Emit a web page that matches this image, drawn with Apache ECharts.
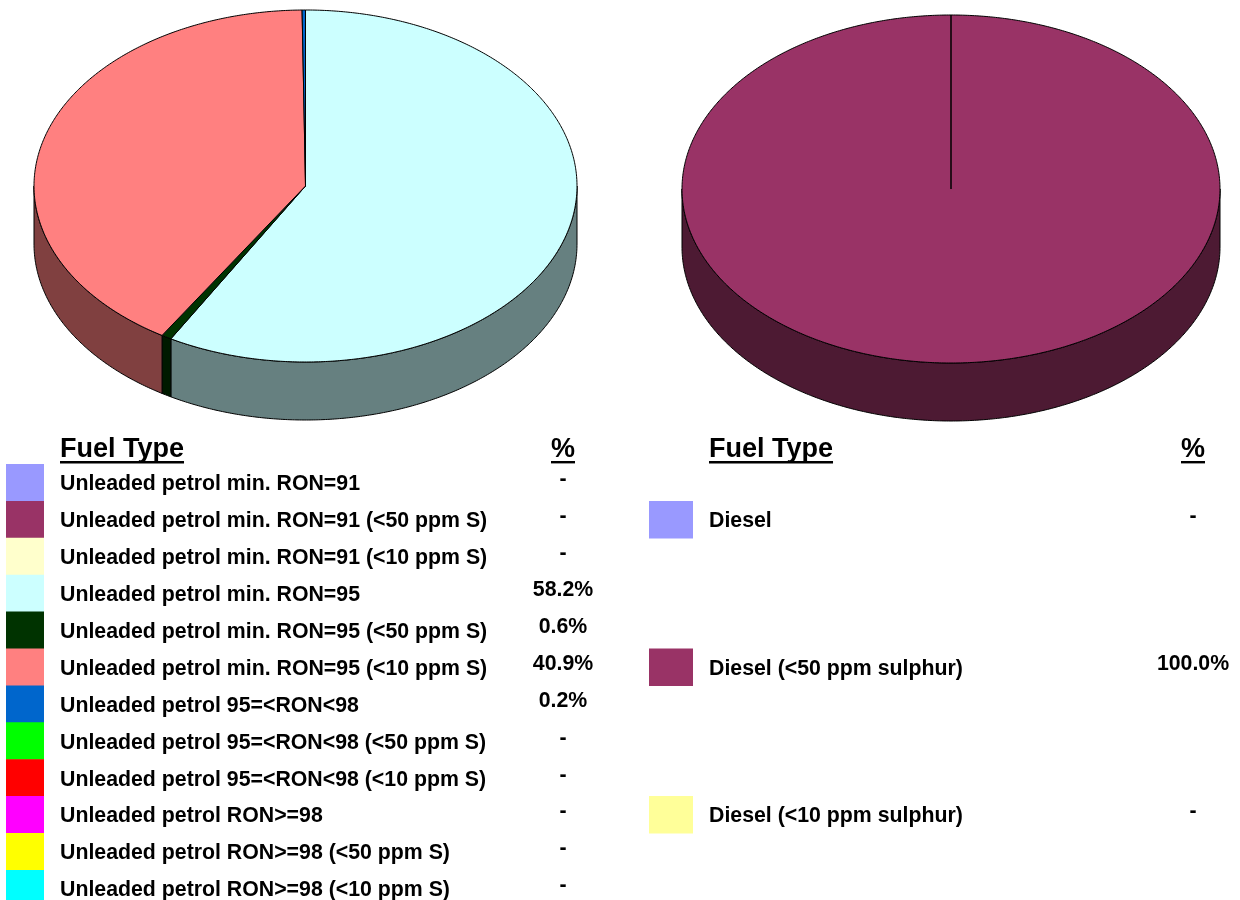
<!DOCTYPE html>
<html>
<head>
<meta charset="utf-8">
<script src="https://cdn.jsdelivr.net/npm/echarts@6/dist/echarts.min.js"></script>
<style>
  html, body { margin: 0; padding: 0; background: #ffffff; }
  #chart { width: 1240px; height: 900px; }
</style>
</head>
<body>
<div id="chart"></div>
<script>
// Petrol sales split by fuel grade (%)
const petrolTypes = [
  'Unleaded petrol min. RON=91',
  'Unleaded petrol min. RON=91 (<50 ppm S)',
  'Unleaded petrol min. RON=91 (<10 ppm S)',
  'Unleaded petrol min. RON=95',
  'Unleaded petrol min. RON=95 (<50 ppm S)',
  'Unleaded petrol min. RON=95 (<10 ppm S)',
  'Unleaded petrol 95=<RON<98',
  'Unleaded petrol 95=<RON<98 (<50 ppm S)',
  'Unleaded petrol 95=<RON<98 (<10 ppm S)',
  'Unleaded petrol RON>=98',
  'Unleaded petrol RON>=98 (<50 ppm S)',
  'Unleaded petrol RON>=98 (<10 ppm S)'
];
const petrolShares = [0, 0, 0, 58.2, 0.6, 40.9, 0.2, 0, 0, 0, 0, 0];
const petrolColors = [
  '#9999FF', '#993366', '#FFFFCC', '#CCFFFF', '#003300', '#FF8080',
  '#0066CC', '#00FF00', '#FF0000', '#FF00FF', '#FFFF00', '#00FFFF'
];

// Diesel sales split by sulphur content (%)
const dieselTypes = ['Diesel', 'Diesel (<50 ppm sulphur)', 'Diesel (<10 ppm sulphur)'];
const dieselShares = [0, 100, 0];
const dieselColors = ['#9999FF', '#993366', '#FFFF99'];

const headerLabels = ['Fuel Type', '%'];

const FONT = '"Liberation Sans", Arial, Helvetica, sans-serif';
const rowFont = 'bold 21.3px ' + FONT;
const headFont = 'bold 27px ' + FONT;

// darker tone for the side wall of a slice
function shade(hex, f) {
  const n = parseInt(hex.slice(1), 16);
  const r = Math.round(((n >> 16) & 255) * f);
  const g = Math.round(((n >> 8) & 255) * f);
  const b = Math.round((n & 255) * f);
  return 'rgb(' + r + ',' + g + ',' + b + ')';
}

// Tilted pie with a side wall; angles run clockwise from 12 o'clock
function tiltedPie(shares, colors, geo) {
  const total = shares.reduce((s, v) => s + v, 0);
  const starts = [];
  let acc = 0;
  shares.forEach(v => { starts.push(acc); acc += v; });

  function pt(deg, dy) {
    const t = deg * Math.PI / 180;
    return [geo.cx + geo.rx * Math.sin(t), geo.cy - geo.ry * Math.cos(t) + (dy || 0)];
  }
  function arc(a, b, dy) {
    const pts = [];
    const steps = Math.max(2, Math.ceil(Math.abs(b - a) / 0.5));
    for (let k = 0; k <= steps; k++) pts.push(pt(a + (b - a) * k / steps, dy));
    return pts;
  }

  return {
    type: 'custom',
    coordinateSystem: 'none',
    silent: true,
    animation: false,
    data: shares.map((v, i) => ({ value: v, itemStyle: { color: colors[i] } })),
    renderItem(params, api) {
      const i = params.dataIndex;
      const v = api.value(0);
      if (!v) return null;
      const a0 = starts[i] / total * 360;
      const a1 = (starts[i] + v) / total * 360;
      const children = [];
      const w0 = Math.max(a0, 90), w1 = Math.min(a1, 270);
      if (w1 > w0) {
        const wall = arc(w0, w1, 0).concat(arc(w1, w0, geo.depth));
        children.push({
          type: 'polygon',
          shape: { points: wall },
          style: { fill: shade(colors[i], 0.5), stroke: '#000', lineWidth: 1 }
        });
      }
      const top = [[geo.cx, geo.cy]].concat(arc(a0, a1, 0));
      children.push({
        type: 'polygon',
        shape: { points: top },
        style: { fill: colors[i], stroke: '#000', lineWidth: 1 }
      });
      return { type: 'group', children: children };
    }
  };
}

// width of a string, used for the heading underlines
const measureCtx = document.createElement('canvas').getContext('2d');
function textWidth(str, font) { measureCtx.font = font; return measureCtx.measureText(str).width; }

function fmtShare(v) { return v ? v.toFixed(1) + '%' : '-'; }

const ROW_TOP = 464, ROW_H = 36.9;

function legendTable(types, shares, colors, lay) {
  const els = [];
  const headY = 450;
  const wName = textWidth(headerLabels[0], headFont);
  const wPct = textWidth(headerLabels[1], headFont);
  els.push({ type: 'text', x: lay.textX, y: headY,
    style: { text: headerLabels[0], font: headFont, fill: '#000', align: 'left', verticalAlign: 'middle' } });
  els.push({ type: 'rect', shape: { x: lay.textX, y: 461, width: wName, height: 2.4 }, style: { fill: '#000' } });
  els.push({ type: 'text', x: lay.valueX, y: headY,
    style: { text: headerLabels[1], font: headFont, fill: '#000', align: 'center', verticalAlign: 'middle' } });
  els.push({ type: 'rect', shape: { x: lay.valueX - wPct / 2, y: 461, width: wPct, height: 2.4 }, style: { fill: '#000' } });

  types.forEach((name, i) => {
    const top = ROW_TOP + lay.rows[i] * ROW_H;
    const mid = top + ROW_H / 2;
    els.push({ type: 'rect', shape: { x: lay.swatchX, y: top, width: lay.swatchW, height: ROW_H + 0.6 },
      style: { fill: colors[i] } });
    els.push({ type: 'text', x: lay.textX, y: mid + 2,
      style: { text: name, font: rowFont, fill: '#000', align: 'left', verticalAlign: 'middle' } });
    els.push({ type: 'text', x: lay.valueX, y: mid - 3,
      style: { text: fmtShare(shares[i]), font: rowFont, fill: '#000', align: 'center', verticalAlign: 'middle' } });
  });
  return els;
}

const chart = echarts.init(document.getElementById('chart'), null, { renderer: 'canvas' });
chart.setOption({
  backgroundColor: '#ffffff',
  animation: false,
  series: [
    tiltedPie(petrolShares, petrolColors, { cx: 305.5, cy: 186, rx: 271.5, ry: 176, depth: 58 }),
    tiltedPie(dieselShares, dieselColors, { cx: 951, cy: 189, rx: 269, ry: 174, depth: 58 })
  ],
  graphic: [].concat(
    legendTable(petrolTypes, petrolShares, petrolColors,
      { swatchX: 6, swatchW: 38, textX: 60, valueX: 563, rows: petrolTypes.map((_, i) => i) }),
    legendTable(dieselTypes, dieselShares, dieselColors,
      { swatchX: 649, swatchW: 44, textX: 709, valueX: 1193, rows: [1, 5, 9] })
  )
});
</script>
</body>
</html>
